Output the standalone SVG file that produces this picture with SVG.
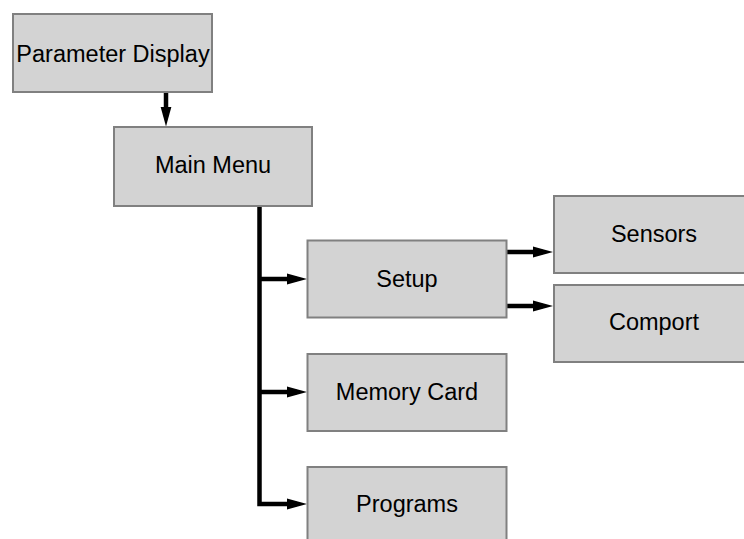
<svg xmlns="http://www.w3.org/2000/svg" width="744" height="539" viewBox="0 0 744 539">
  <style>
    .box { fill: #d3d3d3; stroke: #808080; stroke-width: 2; }
    .lbl { font-family: "Liberation Sans", Arial, sans-serif; font-size: 23.5px; fill: #000; text-anchor: middle; }
    .conn { fill: none; stroke: #000; stroke-width: 4.5; stroke-linejoin: miter; }
  </style>
  <defs>
    <marker id="arrow" markerUnits="userSpaceOnUse" markerWidth="20" markerHeight="12" refX="10" refY="6" orient="auto">
      <path d="M0,0.5 L20,6 L0,11.5 z" fill="#000"/>
    </marker>
  </defs>
  <rect width="744" height="539" fill="#fff"/>
  <g id="connectors">
    <path class="conn" d="M166 93 V116.5" marker-end="url(#arrow)"/>
    <path class="conn" d="M259.5 206 V504 H297" marker-end="url(#arrow)"/>
    <path class="conn" d="M259.5 279 H297" marker-end="url(#arrow)"/>
    <path class="conn" d="M259.5 392 H297" marker-end="url(#arrow)"/>
    <path class="conn" d="M507 252 H543" marker-end="url(#arrow)"/>
    <path class="conn" d="M507 306 H543" marker-end="url(#arrow)"/>
  </g>
  <g id="parameter-display">
    <rect class="box" x="13" y="14" width="199" height="78"/>
    <text class="lbl" x="113" y="62">Parameter Display</text>
  </g>
  <g id="main-menu">
    <rect class="box" x="114" y="127" width="198" height="79"/>
    <text class="lbl" x="213" y="173">Main Menu</text>
  </g>
  <g id="setup">
    <rect class="box" x="307.5" y="240.5" width="199" height="77"/>
    <text class="lbl" x="407" y="287">Setup</text>
  </g>
  <g id="sensors">
    <rect class="box" x="554" y="196" width="199" height="77"/>
    <text class="lbl" x="654" y="242">Sensors</text>
  </g>
  <g id="comport">
    <rect class="box" x="554" y="285" width="199" height="77"/>
    <text class="lbl" x="654" y="330">Comport</text>
  </g>
  <g id="memory-card">
    <rect class="box" x="307.5" y="354" width="199" height="77"/>
    <text class="lbl" x="407" y="400">Memory Card</text>
  </g>
  <g id="programs">
    <rect class="box" x="307.5" y="467" width="199" height="77"/>
    <text class="lbl" x="407" y="512">Programs</text>
  </g>
</svg>
